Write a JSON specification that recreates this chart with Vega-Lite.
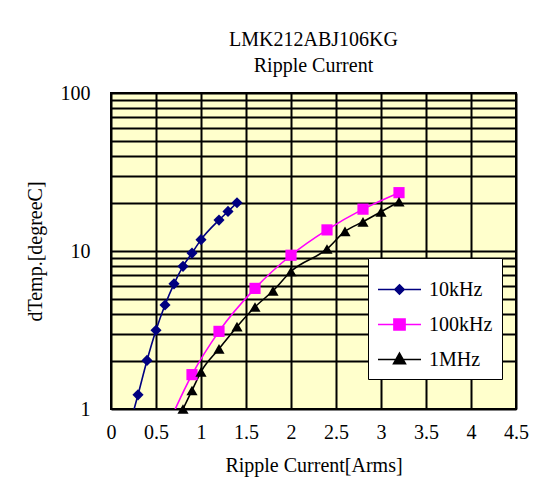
{
  "$schema": "https://vega.github.io/schema/vega-lite/v6.json",
  "width": 405,
  "height": 316,
  "autosize": "none",
  "padding": {"left": 111, "top": 93, "right": 19, "bottom": 79},
  "background": "white",
  "title": {
    "text": ["LMK212ABJ106KG", "Ripple Current"],
    "font": "Liberation Serif",
    "fontSize": 20,
    "fontWeight": "normal",
    "lineHeight": 26,
    "offset": 7,
    "color": "black"
  },
  "config": {
    "view": {"fill": "#FFFFCC", "stroke": "black", "strokeWidth": 2},
    "font": "Liberation Serif",
    "legend": {
      "title": null,
      "orient": "none",
      "legendX": 257,
      "legendY": 165,
      "fillColor": "white",
      "strokeColor": "black",
      "padding": 9,
      "symbolSize": 1849,
      "symbolOpacity": 1,
      "labelFont": "Liberation Serif",
      "labelFontSize": 20,
      "labelColor": "black",
      "labelOffset": 7,
      "rowPadding": 2,
      "symbolStrokeWidth": 1.5
    }
  },
  "data": {
    "values": [
      {"f": "10kHz", "x": 0.2, "y": 0.76},
      {"f": "10kHz", "x": 0.3, "y": 1.23},
      {"f": "10kHz", "x": 0.4, "y": 2.03},
      {"f": "10kHz", "x": 0.5, "y": 3.15},
      {"f": "10kHz", "x": 0.6, "y": 4.55},
      {"f": "10kHz", "x": 0.7, "y": 6.2},
      {"f": "10kHz", "x": 0.8, "y": 8.0},
      {"f": "10kHz", "x": 0.9, "y": 9.7},
      {"f": "10kHz", "x": 1.0, "y": 11.8},
      {"f": "10kHz", "x": 1.2, "y": 15.7},
      {"f": "10kHz", "x": 1.3, "y": 17.8},
      {"f": "10kHz", "x": 1.4, "y": 20.2},
      {"f": "100kHz", "x": 0.6, "y": 0.72},
      {"f": "100kHz", "x": 0.9, "y": 1.65},
      {"f": "100kHz", "x": 1.2, "y": 3.1},
      {"f": "100kHz", "x": 1.6, "y": 5.8},
      {"f": "100kHz", "x": 2.0, "y": 9.4},
      {"f": "100kHz", "x": 2.4, "y": 13.6},
      {"f": "100kHz", "x": 2.8, "y": 18.4},
      {"f": "100kHz", "x": 3.2, "y": 23.4},
      {"f": "1MHz", "x": 0.8, "y": 1.0},
      {"f": "1MHz", "x": 0.9, "y": 1.31},
      {"f": "1MHz", "x": 1.0, "y": 1.72},
      {"f": "1MHz", "x": 1.2, "y": 2.4},
      {"f": "1MHz", "x": 1.4, "y": 3.32},
      {"f": "1MHz", "x": 1.6, "y": 4.42},
      {"f": "1MHz", "x": 1.8, "y": 5.6},
      {"f": "1MHz", "x": 2.0, "y": 7.42},
      {"f": "1MHz", "x": 2.4, "y": 10.3},
      {"f": "1MHz", "x": 2.6, "y": 13.3},
      {"f": "1MHz", "x": 2.8, "y": 15.3},
      {"f": "1MHz", "x": 3.0, "y": 17.7},
      {"f": "1MHz", "x": 3.2, "y": 20.5}
    ]
  },
  "encoding": {
    "x": {
      "field": "x",
      "type": "quantitative",
      "scale": {"domain": [0, 4.5], "nice": false, "zero": false},
      "axis": {
        "values": [0, 0.5, 1, 1.5, 2, 2.5, 3, 3.5, 4, 4.5],
        "format": "~g",
        "grid": true,
        "gridColor": "black",
        "gridWidth": 2,
        "gridOpacity": 1,
        "ticks": false,
        "domain": false,
        "labelFont": "Liberation Serif",
        "labelFontSize": 20,
        "labelColor": "black",
        "labelPadding": 13,
        "labelFlush": false,
        "labelOverlap": false,
        "title": "Ripple Current[Arms]",
        "titleFont": "Liberation Serif",
        "titleFontSize": 20,
        "titleFontWeight": "normal",
        "titleColor": "black",
        "titlePadding": 13
      }
    },
    "y": {
      "field": "y",
      "type": "quantitative",
      "scale": {"type": "log", "domain": [1, 100], "nice": false},
      "axis": {
        "values": [1, 2, 3, 4, 5, 6, 7, 8, 9, 10, 20, 30, 40, 50, 60, 70, 80, 90, 100],
        "format": "~g",
        "labelExpr": "datum.value == 1 || datum.value == 10 || datum.value == 100 ? datum.label : ''",
        "grid": true,
        "gridColor": "black",
        "gridWidth": 2,
        "gridOpacity": 1,
        "ticks": false,
        "domain": false,
        "labelFont": "Liberation Serif",
        "labelFontSize": 20,
        "labelColor": "black",
        "labelPadding": 21,
        "labelFlush": false,
        "labelOverlap": false,
        "title": "dTemp.[degreeC]",
        "titleFont": "Liberation Serif",
        "titleFontSize": 20,
        "titleFontWeight": "normal",
        "titleColor": "black",
        "titlePadding": 15
      }
    }
  },
  "layer": [
    {
      "mark": {"type": "line", "clip": true, "strokeWidth": 1.6, "interpolate": "monotone"},
      "encoding": {
        "color": {
          "field": "f",
          "type": "nominal",
          "scale": {"domain": ["10kHz", "100kHz", "1MHz"], "range": ["#000080", "#FF00FF", "#000000"]},
          "legend": null
        }
      }
    },
    {
      "transform": [{"filter": "datum.y >= 0.99"}],
      "mark": {"type": "point", "filled": true, "opacity": 1, "size": 125},
      "encoding": {
        "color": {
          "field": "f",
          "type": "nominal",
          "scale": {"domain": ["10kHz", "100kHz", "1MHz"], "range": ["#000080", "#FF00FF", "#000000"]},
          "legend": null
        },
        "shape": {
          "field": "f",
          "type": "nominal",
          "scale": {"domain": ["10kHz", "100kHz", "1MHz"], "range": ["diamond", "square", "triangle-up"]},
          "legend": null
        }
      }
    },
    {
      "transform": [{"filter": "datum.y >= 0.99"}],
      "mark": {"type": "point", "filled": true, "opacity": 0},
      "encoding": {
        "fill": {
          "field": "f",
          "type": "nominal",
          "scale": {"domain": ["10kHz", "100kHz", "1MHz"], "range": ["#000080", "#FF00FF", "#000000"]}
        },
        "stroke": {
          "field": "f",
          "type": "nominal",
          "scale": {"domain": ["10kHz", "100kHz", "1MHz"], "range": ["#000080", "#FF00FF", "#000000"]}
        },
        "shape": {
          "field": "f",
          "type": "nominal",
          "scale": {
            "domain": ["10kHz", "100kHz", "1MHz"],
            "range": [
              "M-1,0H1M0,-0.22L0.22,0L0,0.22L-0.22,0Z",
              "M-1,0H1M-0.26,-0.26H0.26V0.26H-0.26Z",
              "M-1,0H1M0,-0.3L0.28,0.2H-0.28Z"
            ]
          }
        }
      }
    }
  ],
  "resolve": {
    "scale": {"shape": "independent", "fill": "independent", "stroke": "independent"},
    "legend": {"shape": "independent", "fill": "independent", "stroke": "independent"}
  }
}
